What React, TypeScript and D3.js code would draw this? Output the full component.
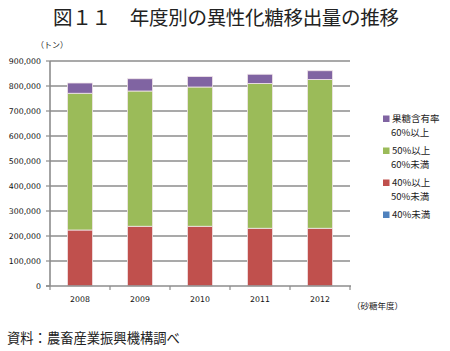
import React from "react";
import * as d3 from "d3";

const years = ["2008", "2009", "2010", "2011", "2012"];
// tonnes, per fructose content band
const under40 = [0, 0, 0, 0, 0];
const from40to50 = [224000, 239000, 239000, 231000, 231000];
const from50to60 = [547000, 541000, 557000, 579000, 595000];
const over60 = [41000, 49000, 42000, 37000, 35000];
const yTicks = [0, 100000, 200000, 300000, 400000, 500000, 600000, 700000, 800000, 900000];

const seriesKeys = ["u40", "b40", "b50", "o60"];
const seriesColors: Record<string, string> = {
  u40: "#4F81BD",
  b40: "#C0504D",
  b50: "#9BBB59",
  o60: "#8064A2",
};
const legendItems = [
  { key: "o60", lines: ["果糖含有率", "60%以上"] },
  { key: "b50", lines: ["50%以上", "60%未満"] },
  { key: "b40", lines: ["40%以上", "50%未満"] },
  { key: "u40", lines: ["40%未満"] },
];

export default function App() {
  const left = 50, right = 350, top = 61, bottom = 286;

  const rows = years.map((y, i) => ({
    year: y,
    u40: under40[i],
    b40: from40to50[i],
    b50: from50to60[i],
    o60: over60[i],
  }));
  const stacked = d3.stack<any>().keys(seriesKeys)(rows);

  const x = d3.scaleBand().domain(years).range([left, right]).paddingInner(0.58).paddingOuter(0.29);
  const y = d3.scaleLinear().domain([0, 900000]).range([bottom, top]);
  const fmt = d3.format(",");
  const gridColor = "#8c8c8c";
  const tickFont = "'DejaVu Sans', sans-serif";
  const jpFont = "'Noto Sans CJK JP', sans-serif";

  const bounds = d3.range(years.length + 1).map((i) => left + (i * (right - left)) / years.length);

  return (
    <svg width={450} height={351} style={{ position: "absolute", left: 0, top: 0, background: "#fff" }}>
      <text x={53} y={25} fontFamily={jpFont} fontSize={19.5} fontWeight={400} fill="#222" textLength={346}>
        図１１　年度別の異性化糖移出量の推移
      </text>
      <text x={36} y={48} fontFamily={jpFont} fontSize={8} fill="#222">（トン）</text>

      {yTicks.map((t) => (
        <g key={t}>
          {t > 0 && <line x1={left} x2={right} y1={y(t)} y2={y(t)} stroke={gridColor} strokeWidth={1.6} />}
          <line x1={left - 4} x2={left} y1={y(t)} y2={y(t)} stroke={gridColor} strokeWidth={1.2} />
          <text x={41} y={y(t) + 3} textAnchor="end" fontFamily={tickFont} fontSize={7.8} fill="#111">
            {fmt(t)}
          </text>
        </g>
      ))}

      {stacked.map((s) => (
        <g key={s.key} fill={seriesColors[s.key]}>
          {s.map((d, i) =>
            d[1] - d[0] > 0 ? (
              <rect
                key={i}
                x={x(years[i])!}
                width={x.bandwidth()}
                y={y(d[1])}
                height={y(d[0]) - y(d[1])}
                stroke="#f2e6ea"
                strokeWidth={0.8}
              />
            ) : null
          )}
        </g>
      ))}

      <line x1={left} x2={left} y1={top} y2={bottom} stroke={gridColor} strokeWidth={1.6} />
      <line x1={left - 4} x2={right + 1} y1={bottom} y2={bottom} stroke={gridColor} strokeWidth={1.6} />
      {bounds.map((b, i) => (
        <line key={i} x1={b} x2={b} y1={bottom} y2={bottom + 4} stroke={gridColor} strokeWidth={1.2} />
      ))}
      {years.map((yr) => (
        <text key={yr} x={x(yr)! + x.bandwidth() / 2} y={302} textAnchor="middle" fontFamily={tickFont} fontSize={7.8} fill="#111">
          {yr}
        </text>
      ))}
      <text x={352} y={309} fontFamily={jpFont} fontSize={8.5} fill="#222">（砂糖年度）</text>

      {legendItems.map((it, i) => {
        const ly = 122 + i * 32;
        return (
          <g key={it.key}>
            <rect x={383} y={ly - 6.5} width={6.5} height={6.5} fill={seriesColors[it.key]} />
            {it.lines.map((l, j) => (
              <text key={j} x={j === 0 ? 392 : 391} y={ly + j * 14} fontFamily={jpFont} fontSize={9.5} fill="#222">
                {l}
              </text>
            ))}
          </g>
        );
      })}

      <text x={7} y={343} fontFamily={jpFont} fontSize={13.3} fill="#222">資料：農畜産業振興機構調べ</text>
    </svg>
  );
}
